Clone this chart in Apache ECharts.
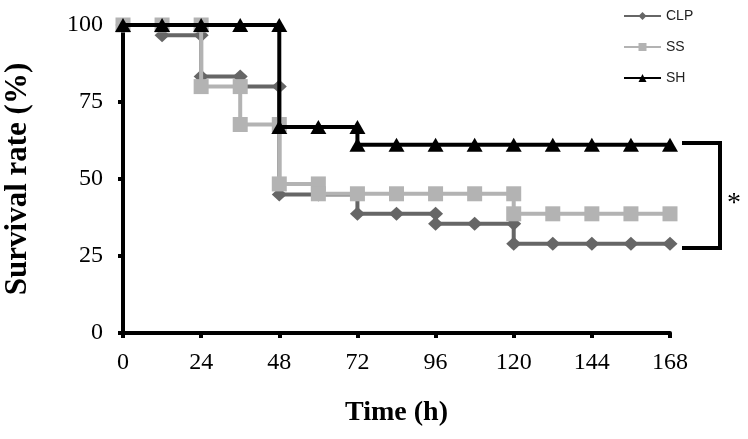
<!DOCTYPE html>
<html><head><meta charset="utf-8">
<script src="https://cdn.jsdelivr.net/npm/echarts@6/dist/echarts.min.js"></script>
<style>html,body{margin:0;padding:0;background:#fff}#c{width:748px;height:439px}</style>
</head><body><div id="c"></div>
<script>
// Time points (h) with repeated x at drops (step curve as drawn in the original)
const clpX = [0,12,12,24,24,36,36,48,48,60,72,72,84,96,96,108,120,120,132,144,156,168];
const clpY = [100,100,96.7,96.7,83.3,83.3,80,80,45,45,45,38.7,38.7,38.7,35.5,35.5,35.5,29,29,29,29,29];
const ssX  = [0,12,24,24,36,36,48,48,60,60,72,84,96,108,120,120,132,144,156,168];
const ssY  = [100,100,100,80,80,67.7,67.7,48.4,48.4,45.2,45.2,45.2,45.2,45.2,45.2,38.7,38.7,38.7,38.7,38.7];
const shX  = [0,12,24,36,48,48,60,72,72,84,96,108,120,132,144,156,168];
const shY  = [100,100,100,100,100,66.9,66.9,66.9,61.1,61.1,61.1,61.1,61.1,61.1,61.1,61.1,61.1];
const xTicks = [0,24,48,72,96,120,144,168];
const yTicks = [0,25,50,75,100];
const seriesNames = ['CLP','SS','SH'];
const bracketTop = 61.7, bracketBottom = 27.6;

const zip = (xs, ys) => xs.map((x, i) => [x, ys[i]]);
const chart = echarts.init(document.getElementById('c'));
const serif = 'Liberation Serif';
chart.setOption({
  animation: false,
  grid: {left: 123, right: 78, top: 25, bottom: 106, containLabel: false, outerBoundsMode: 'none'},
  legend: {
    orient: 'vertical', left: 618, top: 4, itemWidth: 37, itemHeight: 10, itemGap: 17,
    textStyle: {fontFamily: 'Liberation Sans', fontSize: 14, color: '#222'},
    data: seriesNames
  },
  xAxis: {
    type: 'value', min: 0, max: 168, interval: 24,
    name: 'Time (h)', nameLocation: 'middle', nameGap: 66,
    nameTextStyle: {fontFamily: serif, fontSize: 28, fontWeight: 'bold', color: '#000'},
    axisLine: {lineStyle: {color: '#000', width: 4}},
    axisTick: {show: true, length: 5, lineStyle: {color: '#000', width: 4}},
    axisLabel: {fontFamily: serif, fontSize: 24, color: '#000', margin: 18,
      formatter: v => xTicks.includes(v) ? String(v) : ''},
    splitLine: {show: false}
  },
  yAxis: {
    type: 'value', min: 0, max: 100, interval: 25,
    name: 'Survival rate (%)', nameLocation: 'middle', nameGap: 90,
    nameTextStyle: {fontFamily: serif, fontSize: 31, fontWeight: 'bold', color: '#000'},
    axisLine: {show: true, lineStyle: {color: '#000', width: 4}},
    axisTick: {show: true, length: 5, lineStyle: {color: '#000', width: 4}},
    axisLabel: {fontFamily: serif, fontSize: 24, color: '#000', margin: 20,
      formatter: v => yTicks.includes(v) ? String(v) : ''},
    splitLine: {show: false}
  },
  series: [
    {name: 'CLP', type: 'line', data: zip(clpX, clpY), symbol: 'diamond', symbolSize: [15, 14],
      itemStyle: {color: '#666666'}, lineStyle: {color: '#666666', width: 4}, z: 2},
    {name: 'SS', type: 'line', data: zip(ssX, ssY), symbol: 'rect', symbolSize: 15,
      itemStyle: {color: '#b3b3b3'}, lineStyle: {color: '#b3b3b3', width: 4}, z: 3},
    {name: 'SH', type: 'line', data: zip(shX, shY), symbol: 'triangle', symbolSize: [16, 14],
      itemStyle: {color: '#000000'}, lineStyle: {color: '#000000', width: 4}, z: 4}
  ]
});

const pTop = chart.convertToPixel({gridIndex: 0}, [168, bracketTop]);
const pBot = chart.convertToPixel({gridIndex: 0}, [168, bracketBottom]);
const x0 = pTop[0] + 12, x1 = pTop[0] + 50;
chart.setOption({
  graphic: [
    {type: 'polyline', shape: {points: [[x0, pTop[1]], [x1, pTop[1]], [x1, pBot[1]], [x0, pBot[1]]]},
      style: {stroke: '#000', lineWidth: 4, fill: null}},
    {type: 'text', x: x1 + 14, y: (pTop[1] + pBot[1]) / 2 + 8,
      style: {text: '*', font: '28px Liberation Serif', fill: '#000', align: 'center', verticalAlign: 'middle'}}
  ]
});
</script></body></html>
